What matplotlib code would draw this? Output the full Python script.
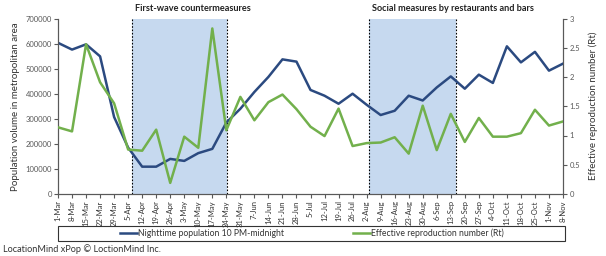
import numpy as np
import matplotlib.pyplot as plt
from matplotlib.patches import Rectangle

plt.rcParams['font.family'] = ['Lato', 'DejaVu Sans']

# weekly dates (2020)
dates = ['1-Mar', '8-Mar', '15-Mar', '22-Mar', '29-Mar', '5-Apr', '12-Apr', '19-Apr', '26-Apr',
         '3-May', '10-May', '17-May', '24-May', '31-May', '7-Jun', '14-Jun', '21-Jun', '28-Jun',
         '5-Jul', '12-Jul', '19-Jul', '26-Jul', '2-Aug', '9-Aug', '16-Aug', '23-Aug', '30-Aug',
         '6-Sep', '13-Sep', '20-Sep', '27-Sep', '4-Oct', '11-Oct', '18-Oct', '25-Oct', '1-Nov', '8-Nov']

# nighttime population 10 PM - midnight
night_pop = [603000, 576000, 597000, 549000, 307000, 185000, 109000, 109000, 140000,
             132000, 163000, 180000, 285000, 340000, 407000, 467000, 537000, 528000,
             415000, 392000, 360000, 400000, 356000, 315000, 332000, 392000, 373000,
             425000, 469000, 420000, 476000, 443000, 589000, 525000, 567000, 492000, 520000]

# effective reproduction number
rt = [1.14, 1.07, 2.56, 1.91, 1.55, 0.76, 0.74, 1.10, 0.19,
      0.98, 0.79, 2.83, 1.09, 1.66, 1.26, 1.57, 1.70, 1.45,
      1.15, 0.99, 1.46, 0.82, 0.87, 0.88, 0.97, 0.69, 1.51,
      0.75, 1.37, 0.89, 1.30, 0.98, 0.98, 1.04, 1.44, 1.17, 1.24]

# shaded periods (position along the weekly axis) and their labels
periods = [(5.3, 12.05), (22.15, 28.4)]
period_labels = ['First-wave countermeasures', 'Social measures by restaurants and bars']

blue = '#2b4a80'
green = '#72b04c'
grey = '#595959'

fig = plt.figure(figsize=(6.06, 2.56), dpi=100)
ax = fig.add_axes([58 / 606, 1 - 194 / 256, 505 / 606, 175.5 / 256])
ax2 = ax.twinx()

x = np.arange(len(dates))
for (start, end), label in zip(periods, period_labels):
    ax.axvspan(start, end, color='#c6d9ef', zorder=0, lw=0)
    ax.axvline(start, color='black', ls=(0, (1.5, 1.5)), lw=0.8, zorder=1)
    ax.axvline(end, color='black', ls=(0, (1.5, 1.5)), lw=0.8, zorder=1)
    ax.text(start + 0.2, 1.03, label, transform=ax.get_xaxis_transform(),
            fontsize=6.6, fontweight='bold', color='#222222', va='bottom', ha='left')

l1, = ax.plot(x, night_pop, color=blue, lw=1.8, zorder=3,
              label='Nighttime population 10 PM-midnight')
l2, = ax2.plot(x, rt, color=green, lw=1.8, zorder=3,
               label='Effective reproduction number (Rt)')
ax.set_zorder(ax2.get_zorder() - 1)
ax2.patch.set_visible(False)

ax.set_xlim(0, len(dates) - 1)
ax.set_ylim(0, 700000)
ax2.set_ylim(0, 3)
ax.set_yticks(np.arange(0, 700001, 100000))
ax2.set_yticks([0, 0.5, 1, 1.5, 2, 2.5, 3])
ax2.set_yticklabels(['0', '0.5', '1', '1.5', '2', '2.5', '3'])
ax.set_xticks(x)
ax.set_xticklabels(dates, rotation=90)

for a in (ax, ax2):
    a.spines['top'].set_visible(False)
    for s in a.spines.values():
        s.set_color(grey)
        s.set_linewidth(0.8)
    a.tick_params(labelsize=5.5, colors=grey, length=3, width=0.8, pad=1.5)
ax.tick_params(axis='x', labelcolor='#333333')

ax.set_ylabel('Population volume in metropolitan area', fontsize=7, color='#333333', labelpad=4)
ax2.set_ylabel('Effective reproduction number (Rt)', fontsize=7, color='#333333', labelpad=6)

fig.legend(handles=[l1, l2], loc='center', bbox_to_anchor=(311.5 / 606, 1 - 233 / 256),
           ncol=2, frameon=False, fontsize=6.2, handlelength=2.0, handletextpad=0.1,
           columnspacing=8.0, labelcolor='#333333')
fig.patches.append(Rectangle((58 / 606, 1 - 241 / 256), 507 / 606, 15 / 256,
                             transform=fig.transFigure, fill=False, ec='#333333', lw=0.8))

fig.text(3 / 606, 1 - 249 / 256, 'LocationMind xPop © LoctionMind Inc.', fontsize=6.6,
         color='#333333', va='center', ha='left')

fig.savefig('out.png', dpi=100)
